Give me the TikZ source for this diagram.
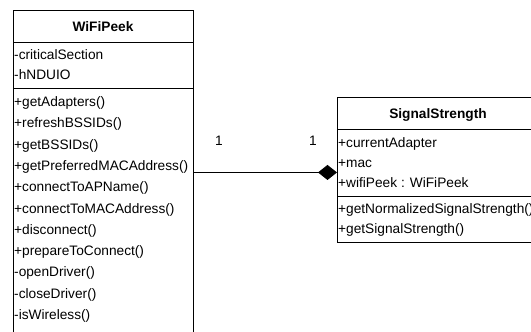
\documentclass[tikz,border=0pt]{standalone}
\usepackage{fontspec}
\setmainfont{Liberation Sans}[Ligatures=NoCommon]
\usetikzlibrary{arrows.meta}
\begin{document}
\begin{tikzpicture}[x=1pt,y=-1pt,
  comp/.style={draw=black, line width=0.9pt, rectangle, inner sep=0pt, anchor=north west},
  member/.style={anchor=base west, inner sep=0pt, font=\fontsize{13.7}{16}\selectfont},
  title/.style={anchor=base, inner sep=0pt, font=\fontsize{13.7}{16}\selectfont\bfseries},
  mult/.style={inner sep=0pt, font=\fontsize{13.7}{16}\selectfont},
  composition/.style={line width=0.9pt, -{Diamond[length=19pt,width=15pt]}}]
\useasboundingbox (0,0) rectangle (531,332);
\clip (0,0) rectangle (531,332);
\fill[white] (0,0) rectangle (531,332);
% WiFiPeek class
\node[comp, minimum width=180pt, minimum height=32pt] (wh) at (13,10) {};
\node[comp, minimum width=180pt, minimum height=46pt] (wa) at (13,42) {};
\node[comp, minimum width=180pt, minimum height=270pt] (wo) at (13,88) {};
\node[title] (wt) at (103,31) {WiFiPeek};
\node[member] (wa1) at (14,59.5) {-criticalSection};
\node[member] (wa2) at (14,79.5) {-hNDUIO};
\foreach [count=\i from 0] \t in {+getAdapters(),+refreshBSSIDs(),+getBSSIDs(),+getPreferredMACAddress(),+connectToAPName(),+connectToMACAddress(),+disconnect(),+prepareToConnect(),-openDriver(),-closeDriver(),-isWireless()}
  \node[member] (wm\i) at ({14},{106.5+21.3*\i}) {\t};
% SignalStrength class
\node[comp, minimum width=202pt, minimum height=32pt] (sh) at (337,97) {};
\node[comp, minimum width=202pt, minimum height=67pt] (sa) at (337,129) {};
\node[comp, minimum width=202pt, minimum height=46pt] (so) at (337,196) {};
\node[title] (st) at (438,118) {SignalStrength};
\node[member] (sa1) at (338,147) {+currentAdapter};
\node[member] (sa2) at (338,167) {+mac};
\node[member] (sa3) at (338,187) {+wifiPeek : WiFiPeek};
\node[member] (sm1) at (338,213.5) {+getNormalizedSignalStrength()};
\node[member] (sm2) at (338,233.5) {+getSignalStrength()};
% composition
\coordinate (sj) at ([yshift=-9.5pt]sa.west);
\draw[composition] (wo.east |- sj) -- (sj);
\node[mult] (m1) at (219,141) {1};
\node[mult] (m2) at (313,141) {1};
\end{tikzpicture}
\end{document}
